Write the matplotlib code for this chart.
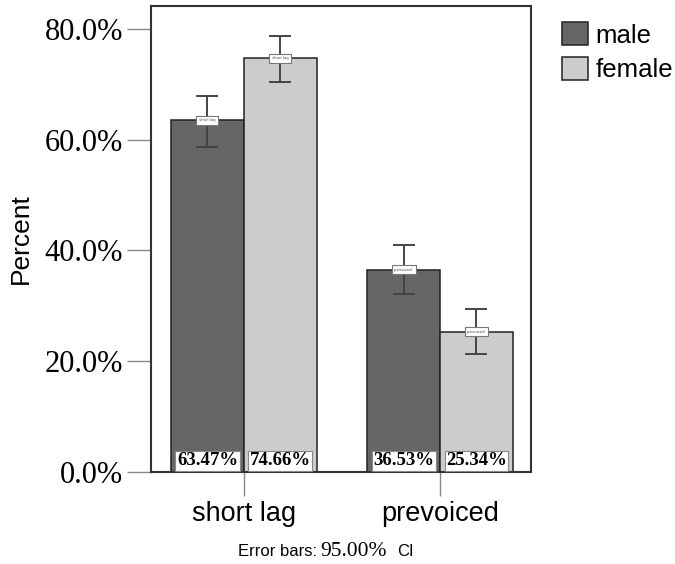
import matplotlib
matplotlib.use('Agg')
import matplotlib.pyplot as plt
import numpy as np

categories = ['short lag', 'prevoiced']
groups = ['male', 'female']
male_pct = [63.47, 36.53]
female_pct = [74.66, 25.34]
# 95% CI bounds read per bar
male_lo = [58.7, 32.1]
male_hi = [67.8, 41.0]
female_lo = [70.4, 21.3]
female_hi = [78.6, 29.4]
yticks = [0, 20, 40, 60, 80]

dark = '#666666'
light = '#cccccc'
serif = 'Liberation Serif'
sans = 'Liberation Sans'

fig = plt.figure(figsize=(6.75, 5.64), dpi=100)
ax = fig.add_axes([151 / 675, 1 - 472 / 564, 380 / 675, 466 / 564])

x = np.arange(len(categories))
w = 0.372
series = [
    (male_pct, male_lo, male_hi, dark, -w / 2),
    (female_pct, female_lo, female_hi, light, w / 2),
]
for (vals, lo, hi, col, off), name in zip(series, groups):
    pos = x + off
    ax.bar(pos, vals, width=w, color=col, edgecolor='#222222', linewidth=1.1,
           label=name, zorder=2)
    vals = np.array(vals)
    err = [vals - np.array(lo), np.array(hi) - vals]
    ax.errorbar(pos, vals, yerr=err, fmt='none', ecolor='#444444',
                elinewidth=1.4, capsize=8, capthick=1.4, zorder=3)
    for p, v, cat in zip(pos, vals, categories):
        # value label at the foot of each bar
        ax.text(p, 2.0, f'{v:.2f}%', ha='center', va='center', fontsize=13.5,
                fontweight='bold', family=serif, zorder=4,
                bbox=dict(boxstyle='square,pad=0.08', fc='white',
                          ec='#888888', lw=0.8))
        # tiny tag at the bar top
        ax.text(p, v, cat, ha='center', va='center', fontsize=3.2,
                color='#555555', family=sans, zorder=5,
                bbox=dict(boxstyle='square,pad=0.6', fc='white',
                          ec='#777777', lw=0.8))

ax.set_xlim(-0.474, 1.464)
ax.set_ylim(0, 84.1)
ax.set_yticks(yticks)
ax.set_yticklabels([f'{t:.1f}%' for t in yticks], family=serif, fontsize=22)
ax.set_xticks(x)
ax.set_xticklabels(categories, family=sans, fontsize=19.5)
ax.tick_params(axis='y', length=17, width=1, color='#888888', pad=3)
ax.tick_params(axis='x', length=17, width=1, color='#888888', pad=4)
for s in ax.spines.values():
    s.set_color('#333333')
    s.set_linewidth(1.5)
ax.set_ylabel('Percent', family=sans, fontsize=19)
ax.yaxis.set_label_coords(-0.31, 0.5)

fig.legend(loc='upper left', bbox_to_anchor=(552 / 675, 1 - 12 / 564),
           frameon=False, prop=dict(family=sans, size=18.5),
           handlelength=1.0, handleheight=1.0, handletextpad=0.3,
           labelspacing=0.35, borderaxespad=0)

# footnote with mixed fonts
fy = 1 - 551 / 564
fig.text(317 / 675, fy, 'Error bars:', ha='right', va='center',
         family=sans, fontsize=12)
fig.text(320 / 675, fy, '95.00%', ha='left', va='center',
         family=serif, fontsize=15.5)
fig.text(414 / 675, fy, 'CI', ha='right', va='center',
         family=sans, fontsize=12)

fig.savefig('out.png', dpi=100)
